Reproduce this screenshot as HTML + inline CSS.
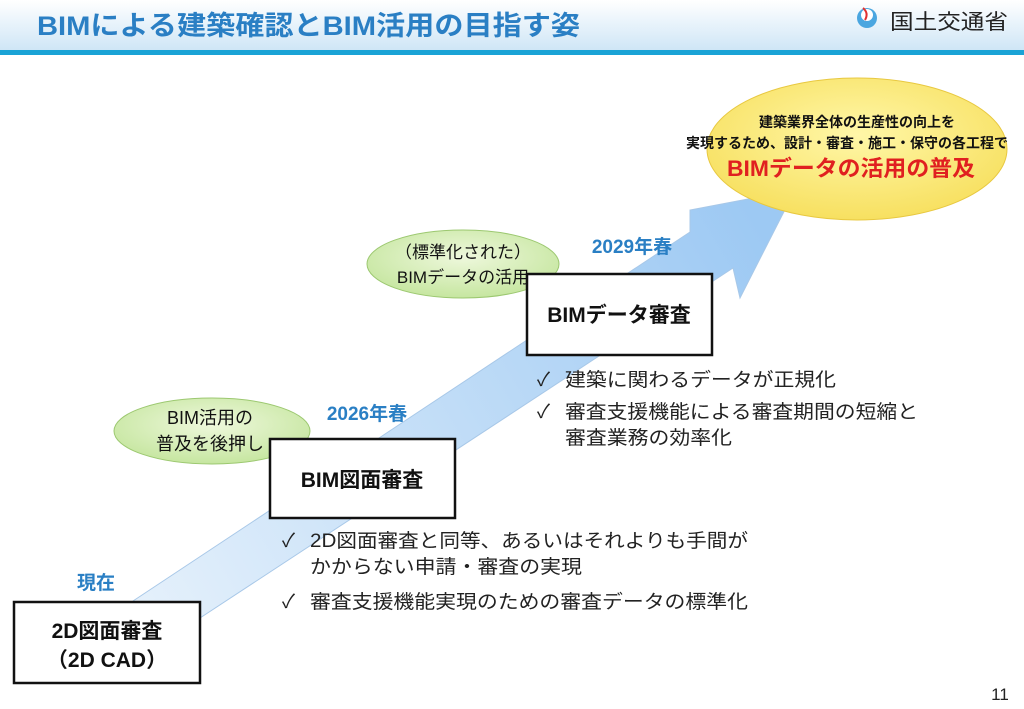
<!DOCTYPE html>
<html><head><meta charset="utf-8"><style>
html,body{margin:0;padding:0;background:#fff;}
body{width:1024px;height:709px;overflow:hidden;position:relative;font-family:"Liberation Sans","Noto Sans CJK JP",sans-serif;}
svg{position:absolute;left:0;top:0;}
</style></head><body>
<svg width="1024" height="709" viewBox="0 0 1024 709" xmlns="http://www.w3.org/2000/svg" font-family="Liberation Sans, Noto Sans CJK JP, sans-serif">
<defs>
<linearGradient id="band" x1="0" y1="0" x2="0" y2="1">
<stop offset="0" stop-color="#ffffff"/><stop offset="1" stop-color="#cfe6f6"/>
</linearGradient>
<linearGradient id="arr" x1="140" y1="600" x2="760" y2="230" gradientUnits="userSpaceOnUse">
<stop offset="0" stop-color="#e4f0fb"/><stop offset="1" stop-color="#9dc9f3"/>
</linearGradient>
<radialGradient id="grn" cx="0.5" cy="0.4" r="0.6">
<stop offset="0" stop-color="#eef8dc"/><stop offset="1" stop-color="#c6e6a0"/>
</radialGradient>
<radialGradient id="yel" cx="0.5" cy="0.4" r="0.6">
<stop offset="0" stop-color="#fff7a8"/><stop offset="1" stop-color="#f7e060"/>
</radialGradient>
</defs>
<rect x="0" y="0" width="1024" height="50" fill="url(#band)"/>
<rect x="0" y="50" width="1024" height="5" fill="#1aa3d6"/>
<text x="37" y="35" font-size="27" font-weight="bold" fill="#2a7fc4" textLength="543" lengthAdjust="spacingAndGlyphs">BIMによる建築確認とBIM活用の目指す姿</text>
<circle cx="867" cy="18" r="10" fill="#4aa6e0"/>
<circle cx="867" cy="15" r="6" fill="#fff"/>
<path d="M863 8 q6 5 2 12" stroke="#e03030" stroke-width="2" fill="none"/>
<text x="890" y="29" font-size="21" fill="#222" textLength="118" lengthAdjust="spacingAndGlyphs">国土交通省</text>
<polygon points="133,601 690,232 690,210 795,190 740,298 733,268 200,618 200,640 133,640" fill="url(#arr)" stroke="#a8c8e8" stroke-width="1"/>
<ellipse cx="857" cy="149" rx="150" ry="71" fill="url(#yel)" stroke="#e8c840" stroke-width="1"/>
<text x="857" y="127" font-size="14" font-weight="bold" text-anchor="middle" fill="#111">建築業界全体の生産性の向上を</text>
<text x="847" y="148" font-size="14" font-weight="bold" text-anchor="middle" fill="#111">実現するため、設計・審査・施工・保守の各工程で</text>
<text x="851" y="176" font-size="22" font-weight="bold" text-anchor="middle" fill="#e02020" textLength="248" lengthAdjust="spacingAndGlyphs">BIMデータの活用の普及</text>
<ellipse cx="212" cy="431" rx="98" ry="33" fill="url(#grn)" stroke="#9cc870" stroke-width="1"/>
<text x="210" y="424" font-size="18" text-anchor="middle" fill="#111">BIM活用の</text>
<text x="210" y="450" font-size="18" text-anchor="middle" fill="#111">普及を後押し</text>
<ellipse cx="463" cy="264" rx="96" ry="34" fill="url(#grn)" stroke="#9cc870" stroke-width="1"/>
<text x="463" y="258" font-size="17" text-anchor="middle" fill="#111">（標準化された）</text>
<text x="463" y="283" font-size="17" text-anchor="middle" fill="#111">BIMデータの活用</text>
<text x="96" y="589" font-size="19" font-weight="bold" text-anchor="middle" fill="#2a7fc4">現在</text>
<text x="367" y="420" font-size="19" font-weight="bold" text-anchor="middle" fill="#2a7fc4">2026年春</text>
<text x="632" y="253" font-size="19" font-weight="bold" text-anchor="middle" fill="#2a7fc4">2029年春</text>
<rect x="14" y="602" width="186" height="81" fill="#fff" stroke="#111" stroke-width="2.5"/>
<text x="107" y="638" font-size="21" font-weight="bold" text-anchor="middle" fill="#111">2D図面審査</text>
<text x="107" y="667" font-size="21" font-weight="bold" text-anchor="middle" fill="#111">（2D CAD）</text>
<rect x="270" y="439" width="185" height="79" fill="#fff" stroke="#111" stroke-width="2.5"/>
<text x="362" y="487" font-size="21" font-weight="bold" text-anchor="middle" fill="#111">BIM図面審査</text>
<rect x="527" y="274" width="185" height="81" fill="#fff" stroke="#111" stroke-width="2.5"/>
<text x="619" y="322" font-size="21" font-weight="bold" text-anchor="middle" fill="#111">BIMデータ審査</text>
<g font-size="19" fill="#222">
<text x="282" y="547">✓</text><text x="310" y="547" textLength="438" lengthAdjust="spacingAndGlyphs">2D図面審査と同等、あるいはそれよりも手間が</text>
<text x="310" y="573" textLength="272" lengthAdjust="spacingAndGlyphs">かからない申請・審査の実現</text>
<text x="282" y="608">✓</text><text x="310" y="608" textLength="438" lengthAdjust="spacingAndGlyphs">審査支援機能実現のための審査データの標準化</text>
<text x="537" y="386">✓</text><text x="565" y="386" textLength="271" lengthAdjust="spacingAndGlyphs">建築に関わるデータが正規化</text>
<text x="537" y="418">✓</text><text x="565" y="418" textLength="353" lengthAdjust="spacingAndGlyphs">審査支援機能による審査期間の短縮と</text>
<text x="565" y="444" textLength="167" lengthAdjust="spacingAndGlyphs">審査業務の効率化</text>
</g>
<text x="1000" y="700" font-size="17" text-anchor="middle" fill="#222">11</text>
</svg>
</body></html>
